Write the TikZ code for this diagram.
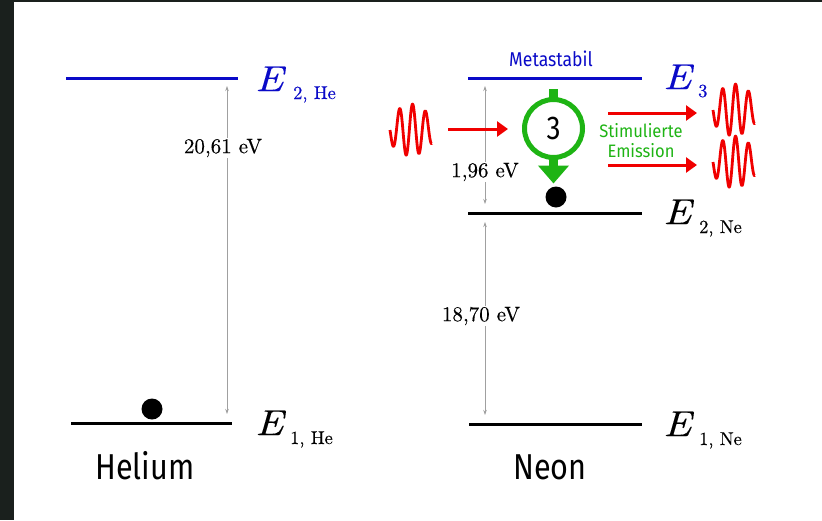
\documentclass[tikz,border=0pt]{standalone}
\usepackage{fontspec}
\usetikzlibrary{arrows.meta}
\newfontfamily\labsans{Fira Sans}
\newfontfamily\lmthick{lmroman10-regular.otf}[FakeBold=0.3]
\newfontfamily\lmthickit{lmroman10-italic.otf}[FakeBold=0.15]
\definecolor{bgdark}{RGB}{26,32,29}
\definecolor{lvblue}{RGB}{10,10,200}
\definecolor{phred}{RGB}{240,0,0}
\definecolor{emgreen}{RGB}{30,180,20}
\definecolor{gapgray}{RGB}{160,160,160}
\tikzset{
  level/.style={line width=3},
  bigE/.style={anchor=base west, inner sep=0, xscale=1.15, font=\lmthickit\fontsize{36}{38}\selectfont},
  subE/.style={anchor=base west, inner sep=0, font=\lmthick\fontsize{18.5}{20}\selectfont},
  gap/.style={draw=gapgray, line width=0.7, {Stealth[length=5,width=3.5]}-{Stealth[length=5,width=3.5]}},
  gaplabel/.style={fill=white, inner sep=1, font=\lmthick\fontsize{21}{23}\selectfont},
  electron/.style={circle, fill=black, minimum size=21, inner sep=0},
  photon/.style={draw=phred, line width=3, -{Triangle[length=11,width=15]}},
  atomname/.style={anchor=base, inner sep=0, xscale=0.85, font=\labsans\fontsize{36}{38}\selectfont},
  wave/.pic={\draw[phred, line width=2.8, line join=round] plot[domain=0:42, samples=120, smooth] (\x,{26*exp(-((\x-21)/26)^2)*sin(360*\x/12.9)});}
}
\begin{document}
\begin{tikzpicture}[x=1pt, y=-1pt]
\useasboundingbox (0,0) rectangle (822,520);
\fill[bgdark] (0,0) rectangle (822,520);
\fill[white] (14,2) rectangle (822,520);

% ---------- Helium ----------
\coordinate (he2a) at (66,78);  \coordinate (he2b) at (238,78);
\coordinate (he1a) at (71,423); \coordinate (he1b) at (232,423);
\draw[level, lvblue] (he2a) -- (he2b);
\draw[level] (he1a) -- (he1b);
\node[bigE, lvblue] (E2He) at (255,91) {E};
\node[subE, lvblue] (s2He) at (293,99) {2, He};
\node[bigE] (E1He) at (255,435) {E};
\node[subE] (s1He) at (290,444) {1, He};
\coordinate (heTop) at (227,86); \coordinate (heBot) at (227,414);
\draw[gap] (heTop) -- (heBot);
\node[gaplabel] (heGap) at (223,148) {20,61 eV};
\node[electron] (eHe) at (152,409) {};
\node[atomname] (heName) at (145,479) {Helium};

% ---------- Neon ----------
\coordinate (ne3a) at (468,78);  \coordinate (ne3b) at (642,78);
\coordinate (ne2a) at (468,213); \coordinate (ne2b) at (642,213);
\coordinate (ne1a) at (469,424); \coordinate (ne1b) at (642,424);
\draw[level, lvblue] (ne3a) -- (ne3b);
\draw[level] (ne2a) -- (ne2b);
\draw[level] (ne1a) -- (ne1b);
\node[anchor=base, inner sep=0, lvblue, xscale=0.88, font=\labsans\fontsize{20}{22}\selectfont] (meta) at (551,66) {Metastabil};
\node[bigE, lvblue] (E3) at (663,89) {E};
\node[subE, lvblue] (s3) at (698,97) {3};
\node[bigE] (E2Ne) at (663,224) {E};
\node[subE] (s2Ne) at (699,233) {2, Ne};
\node[bigE] (E1Ne) at (663,436) {E};
\node[subE] (s1Ne) at (699,445) {1, Ne};

\coordinate (n32Top) at (485,86);  \coordinate (n32Bot) at (485,204);
\coordinate (n21Top) at (485,222); \coordinate (n21Bot) at (485,415);
\draw[gap] (n32Top) -- (n32Bot);
\draw[gap] (n21Top) -- (n21Bot);
\node[gaplabel] (gap32) at (485,172) {1,96 eV};
\node[gaplabel] (gap21) at (481,316) {18,70 eV};

% green transition marker
\node[circle, draw=emgreen, line width=5, minimum size=58, inner sep=0, outer sep=0,
      font=\labsans\fontsize{33}{35}\selectfont] (c3) at (553.5,128.5) {\scalebox{0.85}[1]{3}};
\draw[emgreen, line width=9] (c3.north) -- ++(0,-11);
\draw[emgreen, line width=9, -{Triangle[length=18,width=30]}] (c3.south) -- ++(0,26);
\node[electron] (eNe) at (556,197) {};

\node[align=center, inner sep=0, emgreen, xscale=0.92, font=\labsans\fontsize{18}{20}\selectfont] (stim) at (641,141) {Stimulierte\\Emission};

% photons
\pic at (390,130) {wave};
\coordinate (inA) at (448,129); \coordinate (inB) at (508,129);
\draw[photon] (inA) -- (inB);
\coordinate (outA1) at (608,113); \coordinate (outB1) at (697,113);
\coordinate (outA2) at (608,165); \coordinate (outB2) at (697,165);
\draw[photon] (outA1) -- (outB1);
\draw[photon] (outA2) -- (outB2);
\pic at (713,110) {wave};
\pic at (713,162) {wave};

\node[atomname] (neName) at (550,479) {Neon};
\end{tikzpicture}
\end{document}
